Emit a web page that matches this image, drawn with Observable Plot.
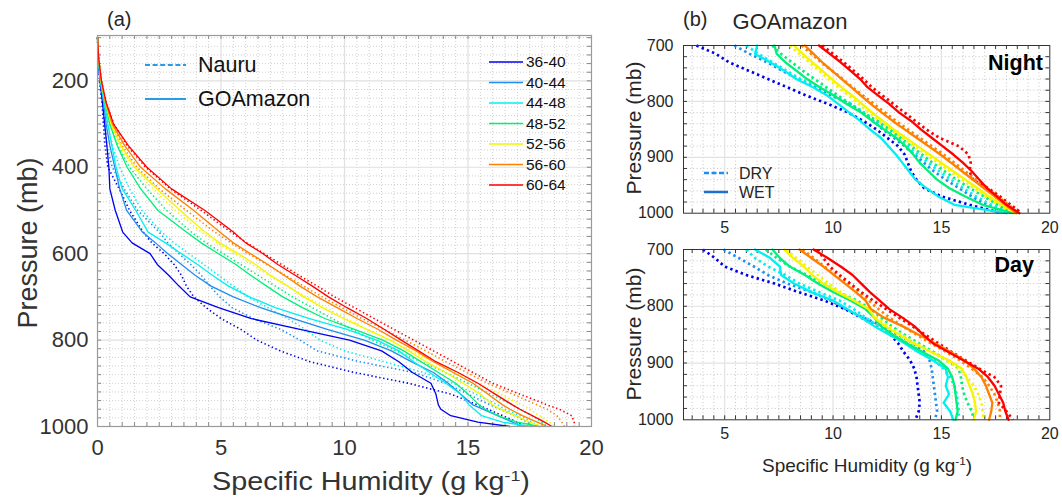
<!DOCTYPE html>
<html><head><meta charset="utf-8">
<script src="https://cdn.jsdelivr.net/npm/d3@7"></script>
<script src="https://cdn.jsdelivr.net/npm/@observablehq/plot@0.6"></script>
<style>
body{margin:0;background:#fff;}
#c{position:relative;width:1062px;height:498px;overflow:hidden;font-family:"Liberation Sans",Arial,Helvetica,sans-serif;color:#262626;background:#fff;}
#c svg{position:absolute;left:0;top:0;}
.t{position:absolute;white-space:nowrap;line-height:1;}
.t sup{font-size:0.62em;vertical-align:0.55em;line-height:0;}
</style></head><body><div id="c"></div>
<script>
// ---------- categories & styles ----------
const binLabels = ["36-40","40-44","44-48","48-52","52-56","56-60","60-64"];
const binColors = ["#0000f0","#1e8ff0","#00f0f0","#00f07a","#f5f500","#ff8000","#ff0000"];

// ---------- panel (a): pressure levels (mb) ----------
const pressureA = [100,150,200,250,300,350,400,450,500,550,575,600,625,650,675,700,725,750,775,800,825,850,875,900,925,950,960,975,990,1000];
// GOAmazon (solid), specific humidity g/kg
const goa36_40 = [0,0.03,0.1,0.2,0.29,0.38,0.46,0.5,0.72,1.02,1.4,2.13,2.42,2.88,3.3,3.75,4.9,6.2,8.2,10.2,11.5,12.2,12.75,13.5,13.7,13.8,13.9,14.3,15.4,16.7];
const goa40_44 = [0,0.03,0.1,0.25,0.35,0.5,0.7,0.9,1.18,1.82,2.35,2.85,3.4,3.95,4.6,5.5,6.6,7.9,9.3,10.8,11.9,12.7,13.6,14.2,14.7,15.2,15.6,16.2,16.8,17.2];
const goa44_48 = [0,0.04,0.12,0.27,0.42,0.58,0.75,1.0,1.55,2.05,2.75,3.4,4.05,4.65,5.3,6.15,7.2,8.55,10.1,11.3,12.2,12.8,13.45,14.1,14.7,15.05,15.25,15.55,16.4,17.6];
const goa48_52 = [0,0.04,0.13,0.3,0.5,0.8,1.2,1.75,2.45,3.6,4.2,4.9,5.6,6.2,6.85,7.5,8.3,9.2,10.4,11.55,12.4,13.1,13.8,14.5,15.0,15.45,15.7,16.2,17.0,17.9];
const goa52_56 = [0,0.05,0.14,0.32,0.55,0.95,1.5,2.4,3.35,4.35,4.95,5.7,6.4,7.0,7.7,8.35,9.1,9.95,10.9,11.85,12.6,13.3,14.1,14.8,15.5,16.0,16.3,16.9,17.5,18.0];
const goa56_60 = [0,0.05,0.15,0.33,0.6,1.1,1.75,2.75,3.9,4.95,5.5,6.2,6.9,7.55,8.2,8.9,9.7,10.5,11.35,12.1,12.9,13.6,14.4,15.2,15.8,16.4,16.7,17.2,17.8,18.2];
const goa60_64 = [0,0.05,0.16,0.35,0.65,1.25,2.0,3.0,4.35,5.5,6.0,6.7,7.3,8.0,8.7,9.35,10.1,10.9,11.6,12.3,13.0,13.7,14.6,15.4,16.1,16.8,17.1,17.6,18.1,18.4];
// Nauru (dotted)
const nau36_40 = [0,0.03,0.08,0.18,0.24,0.3,0.42,0.88,1.3,1.85,2.2,2.7,3.1,3.4,3.6,3.9,4.4,5.0,5.8,6.45,7.4,8.6,10.4,12.6,14.3,15.4,15.8,16.4,17.0,17.3];
const nau40_44 = [0,0.03,0.1,0.2,0.3,0.38,0.6,1.08,1.63,2.5,2.85,3.3,3.78,4.2,4.55,4.95,5.45,6.3,7.4,8.2,8.9,10.6,12.8,14.1,15.0,15.9,16.3,16.9,17.4,17.6];
const nau44_48 = [0,0.04,0.12,0.25,0.4,0.6,0.9,1.3,1.8,2.6,3.1,3.7,4.3,4.9,5.5,6.1,6.9,7.7,8.4,9.0,10.0,11.6,13.2,14.4,15.3,16.2,16.5,17.1,17.6,17.9];
const nau48_52 = [0,0.04,0.13,0.3,0.5,0.82,1.3,2.0,2.8,3.8,4.4,5.1,5.8,6.5,7.2,7.9,8.7,9.5,10.3,11.1,12.1,13.1,14.1,15.0,15.9,16.8,17.1,17.6,18.0,18.2];
const nau52_56 = [0,0.05,0.14,0.32,0.55,0.9,1.45,2.25,3.15,4.2,4.85,5.55,6.25,6.95,7.7,8.45,9.25,10.05,10.9,11.8,12.7,13.6,14.5,15.4,16.3,17.2,17.5,17.9,18.3,18.5];
const nau56_60 = [0,0.05,0.15,0.33,0.6,1.0,1.6,2.5,3.6,4.75,5.4,6.1,6.85,7.6,8.35,9.1,9.9,10.7,11.6,12.45,13.3,14.1,14.95,15.8,16.8,17.8,18.2,18.6,18.8,18.9];
const nau60_64 = [0,0.05,0.16,0.35,0.66,1.2,1.95,2.95,4.2,5.4,6.05,6.75,7.45,8.15,8.9,9.6,10.4,11.2,12.0,12.8,13.6,14.4,15.2,16.0,17.1,18.2,18.7,19.2,19.3,19.3];

// ---------- panel (b): GOAmazon night / day ----------
const pressureB = [700,715,730,745,760,775,790,805,820,835,850,865,880,895,910,925,940,955,970,985,1000];
const nightDry36_40 = [3.7,4.6,5.2,6.1,7.0,7.9,8.8,9.8,10.7,11.4,12.0,12.5,13.0,13.3,13.45,13.6,13.85,14.2,15.0,16.3,17.8];
const nightDry40_44 = [5.45,6.15,6.95,7.65,8.4,9.2,9.95,10.8,11.35,11.85,12.3,12.8,13.3,13.75,14.2,14.65,15.2,15.8,16.4,17.1,18.1];
const nightDry44_48 = [6.0,6.55,7.2,7.85,8.5,9.45,10.15,10.85,11.45,11.95,12.4,12.9,13.4,13.9,14.4,14.9,15.45,16.0,16.6,17.3,18.2];
const nightDry48_52 = [7.2,7.6,8.1,8.6,9.15,9.7,10.25,10.8,11.35,12.05,12.6,13.1,13.6,14.1,14.6,15.15,15.7,16.3,16.95,17.6,18.3];
const nightDry52_56 = [8.0,8.45,8.9,9.35,9.8,10.25,10.75,11.2,11.65,12.15,12.65,13.2,13.75,14.3,14.85,15.4,15.95,16.5,17.05,17.65,18.4];
const nightDry56_60 = [8.55,9.0,9.45,9.95,10.45,10.9,11.4,11.9,12.4,12.9,13.45,14.0,14.55,15.1,15.6,16.1,16.6,17.1,17.6,18.1,18.55];
const nightDry60_64 = [9.5,10.0,10.5,10.95,11.4,11.8,12.3,12.8,13.3,13.8,14.3,14.9,15.8,16.25,16.35,16.3,16.45,17.15,17.7,18.2,18.7];
const nightWet44_48 = [6.5,6.4,7.1,7.75,8.3,9.1,9.75,10.25,10.75,11.25,11.7,12.2,12.55,12.9,13.2,13.5,13.8,14.3,14.85,15.6,18.0];
const nightWet48_52 = [7.3,7.4,7.8,8.3,8.8,9.4,10.05,10.65,11.3,11.8,12.35,12.9,13.35,13.7,14.0,14.4,14.8,15.35,16.1,16.9,18.3];
const nightWet52_56 = [8.2,8.6,9.05,9.5,9.95,10.4,10.9,11.35,11.8,12.3,12.8,13.35,13.9,14.45,15.0,15.55,16.1,16.65,17.2,17.8,18.4];
const nightWet56_60 = [8.7,9.1,9.5,9.95,10.4,10.85,11.3,11.75,12.25,12.75,13.3,13.85,14.4,14.95,15.45,15.95,16.45,16.95,17.45,17.95,18.45];
const nightWet60_64 = [9.35,9.85,10.35,10.8,11.25,11.6,12.1,12.6,13.05,13.6,14.05,14.55,15.05,15.55,16.0,16.4,16.75,17.1,17.55,18.0,18.6];
const dayDry36_40 = [4.0,4.55,5.0,6.0,7.3,8.4,9.6,10.55,11.3,12.0,12.65,13.0,13.25,13.55,13.75,13.85,13.9,13.95,14.0,13.95,13.8];
const dayDry40_44 = [4.95,5.65,6.35,7.0,7.9,9.0,9.9,10.6,11.4,12.3,13.0,13.7,14.2,14.45,14.55,14.6,14.65,14.7,14.75,14.8,14.7];
const dayDry44_48 = [6.0,6.4,7.0,7.8,8.45,9.35,10.3,10.95,11.5,12.1,12.75,13.45,14.1,14.65,15.1,15.4,15.6,15.7,15.75,15.8,15.8];
const dayDry48_52 = [6.9,7.4,8.0,8.8,9.55,10.25,11.1,11.75,12.2,12.7,13.3,13.95,14.6,15.25,15.8,15.9,15.95,16.05,16.2,16.4,16.5];
const dayDry52_56 = [7.85,8.3,8.8,9.3,9.8,10.35,10.95,11.5,12.0,12.55,13.15,13.8,14.5,15.2,15.8,16.2,16.5,16.7,16.85,16.9,16.95];
const dayDry56_60 = [8.6,9.1,9.6,10.15,10.7,11.2,11.65,12.1,12.6,13.2,13.85,14.5,15.2,15.85,16.4,16.9,17.2,17.45,17.6,17.7,17.7];
const dayDry60_64 = [9.3,9.55,9.85,10.3,10.8,11.3,11.85,12.45,13.05,13.65,14.25,14.85,15.45,16.1,16.75,17.45,17.75,17.7,17.65,18.0,18.3];
const dayWet44_48 = [6.4,7.1,7.55,7.6,8.2,9.0,10.0,10.65,11.3,11.9,12.6,13.3,13.9,14.6,15.2,15.3,15.2,15.35,15.1,15.4,15.55];
const dayWet48_52 = [7.2,7.55,8.0,8.7,9.3,10.0,10.8,11.5,11.9,12.2,12.75,13.4,14.1,14.85,15.3,15.5,15.6,15.65,15.7,15.75,15.65];
const dayWet52_56 = [7.75,8.15,8.65,9.05,9.55,10.2,10.95,11.65,11.9,12.4,13.05,13.7,14.5,15.35,15.95,16.15,16.3,16.45,16.55,16.6,16.5];
const dayWet56_60 = [8.45,9.0,9.55,10.05,10.55,11.05,11.5,11.75,12.35,13.2,13.95,14.7,15.4,16.05,16.5,16.85,17.05,17.2,17.35,17.3,17.2];
const dayWet60_64 = [9.1,9.75,10.35,10.9,11.3,11.7,12.15,12.6,13.2,13.75,14.15,14.6,15.3,16.0,16.7,17.15,17.45,17.65,17.85,17.95,18.1];

// ---------- tick labels ----------
const xTicksA = [0,5,10,15,20];
const yTicksA = [200,400,600,800,1000];
const xTicksB = [5,10,15,20];
const yTicksB = [700,800,900,1000];

// ---------- build tables ----------
function rows(press, series, bins){
  const out=[];
  series.forEach((arr,i)=>arr.forEach((q,j)=>out.push({p:press[j], q, bin:bins[i]})));
  return out;
}
const rowsGoa = rows(pressureA,[goa36_40,goa40_44,goa44_48,goa48_52,goa52_56,goa56_60,goa60_64],binLabels);
const rowsNau = rows(pressureA,[nau36_40,nau40_44,nau44_48,nau48_52,nau52_56,nau56_60,nau60_64],binLabels);
const rowsNightDry = rows(pressureB,[nightDry36_40,nightDry40_44,nightDry44_48,nightDry48_52,nightDry52_56,nightDry56_60,nightDry60_64],binLabels);
const rowsNightWet = rows(pressureB,[nightWet44_48,nightWet48_52,nightWet52_56,nightWet56_60,nightWet60_64],binLabels.slice(2));
const rowsDayDry = rows(pressureB,[dayDry36_40,dayDry40_44,dayDry44_48,dayDry48_52,dayDry52_56,dayDry56_60,dayDry60_64],binLabels);
const rowsDayWet = rows(pressureB,[dayWet44_48,dayWet48_52,dayWet52_56,dayWet56_60,dayWet60_64],binLabels.slice(2));

const W=1062, H=498;
const FONT='"Liberation Sans", Arial, Helvetica, sans-serif';
const C=document.getElementById("c");
const color={domain:binLabels, range:binColors};

// grid helpers (positions of grid lines)
const minorXA = d3.range(0.5,20,0.5).filter(v=>v%5!==0);
const minorYA = d3.range(100,1000,20).filter(v=>v%200!==0);
const tickXA = d3.range(0.5,20,0.5);
const tickYA = d3.range(100,1000,20);

const plotA = Plot.plot({
  width:W, height:H, marginLeft:97, marginRight:W-591, marginTop:35, marginBottom:H-426,
  style:{background:"transparent", fontFamily:FONT, fontSize:"22px", color:"#333", overflow:"visible"},
  x:{domain:[0,20], ticks:xTicksA, tickSize:0, tickPadding:13, tickFormat:"d", label:null},
  y:{domain:[95,1000], reverse:true, ticks:yTicksA, tickSize:0, tickPadding:9, tickFormat:"d", label:null},
  color,
  marks:[
    Plot.ruleX(minorXA,{stroke:"#c4c4c4", strokeDasharray:"1,2", strokeWidth:0.8}),
    Plot.ruleY(minorYA,{stroke:"#c4c4c4", strokeDasharray:"1,2", strokeWidth:0.8}),
    Plot.ruleX([5,10,15],{stroke:"#e0e0e0", strokeWidth:1.2}),
    Plot.ruleY([200,400,600,800],{stroke:"#e0e0e0", strokeWidth:1.2}),
    Plot.ruleX(tickXA,{y1:1000, y2:991, stroke:"#888"}),
    Plot.ruleX(tickXA,{y1:95, y2:104, stroke:"#888"}),
    Plot.ruleY(tickYA,{x1:0, x2:0.17, stroke:"#888"}),
    Plot.ruleY(tickYA,{x1:20, x2:19.83, stroke:"#888"}),
    Plot.line(rowsNau,{x:"q", y:"p", z:"bin", stroke:"bin", strokeWidth:1.6, strokeDasharray:"1.4,2.6", strokeLinecap:"butt"}),
    Plot.line(rowsGoa,{x:"q", y:"p", z:"bin", stroke:"bin", strokeWidth:1.3}),
    Plot.frame({stroke:"#9a9a9a", strokeWidth:1.2})
  ]
});
C.append(plotA);

const minorXB = d3.range(3.5,20,0.5).filter(v=>v%5!==0);
const minorYB = d3.range(720,1000,20).filter(v=>v%100!==0);
const tickXB = d3.range(3.5,20,0.5);
const tickYB = d3.range(720,1000,20);

function panelB(dryRows, wetRows, top, bottom){
  return Plot.plot({
    width:W, height:H, marginLeft:683, marginRight:W-1049.3, marginTop:top, marginBottom:H-bottom,
    style:{background:"transparent", fontFamily:FONT, fontSize:"16px", color:"#262626", overflow:"visible"},
    x:{domain:[3.1,20], ticks:xTicksB, tickSize:0, tickPadding:8, tickFormat:"d", label:null},
    y:{domain:[700,1000], reverse:true, ticks:yTicksB, tickSize:0, tickPadding:10, tickFormat:"d", label:null},
    color,
    marks:[
      Plot.ruleX(minorXB,{stroke:"#b8b8b8", strokeDasharray:"1,2.4", strokeWidth:0.8}),
      Plot.ruleY(minorYB,{stroke:"#b8b8b8", strokeDasharray:"1,2.4", strokeWidth:0.8}),
      Plot.ruleX([5,10,15],{stroke:"#e2e2e2", strokeWidth:1.2}),
      Plot.ruleY([800,900],{stroke:"#e2e2e2", strokeWidth:1.2}),
      Plot.ruleX(tickXB,{y1:1000, y2:993, stroke:"#333"}),
      Plot.ruleX(tickXB,{y1:700, y2:707, stroke:"#333"}),
      Plot.ruleY(tickYB,{x1:3.1, x2:3.28, stroke:"#333"}),
      Plot.ruleY(tickYB,{x1:20, x2:19.82, stroke:"#333"}),
      Plot.line(dryRows,{x:"q", y:"p", z:"bin", stroke:"bin", strokeWidth:2.7, strokeDasharray:"2.4,3.2", strokeLinecap:"butt"}),
      Plot.line(wetRows,{x:"q", y:"p", z:"bin", stroke:"bin", strokeWidth:2.3}),
      Plot.frame({stroke:"#333", strokeWidth:1})
    ]
  });
}
C.append(panelB(rowsNightDry, rowsNightWet, 45, 212.7));
C.append(panelB(rowsDayDry, rowsDayWet, 249, 419.3));

// ---------- legend samples ----------
const leg = d3.create("svg").attr("width",W).attr("height",H).style("position","absolute").style("left","0").style("top","0");
leg.append("line").attr("x1",145).attr("x2",186).attr("y1",65).attr("y2",65).attr("stroke","#2a9be8").attr("stroke-width",2).attr("stroke-dasharray","5,2.6");
leg.append("line").attr("x1",145).attr("x2",186).attr("y1",99).attr("y2",99).attr("stroke","#2a9be8").attr("stroke-width",2);
binLabels.forEach((b,i)=>{
  leg.append("line").attr("x1",489).attr("x2",523).attr("y1",62+i*20.5).attr("y2",62+i*20.5).attr("stroke",binColors[i]).attr("stroke-width",1.5);
});
leg.append("line").attr("x1",704).attr("x2",728).attr("y1",173).attr("y2",173).attr("stroke","#1e8ff0").attr("stroke-width",2.5).attr("stroke-dasharray","5,2.5");
leg.append("line").attr("x1",704).attr("x2",728).attr("y1",192).attr("y2",192).attr("stroke","#1e6fd0").attr("stroke-width",2.5);
C.append(leg.node());

// ---------- texts ----------
function txt(html,x,y,o={}){
  const d=document.createElement("div"); d.className="t"; d.innerHTML=html;
  d.style.fontSize=(o.size||16)+"px"; d.style.fontWeight=o.weight||"normal";
  d.style.color=o.color||"#262626"; d.style.left=x+"px"; d.style.top=y+"px";
  const tx=o.anchor==="middle"?"-50%":o.anchor==="end"?"-100%":"0%";
  d.style.transform=`translate(${tx},-50%)`+(o.rotate?` rotate(${o.rotate}deg)`:"")+(o.sx?` scaleX(${o.sx})`:"");
  C.append(d); return d;
}
txt("(a)",107,19,{size:20});
txt("Nauru",198,66,{size:21.5,color:"#111"});
txt("GOAmazon",198,100,{size:21.5,color:"#111"});
binLabels.forEach((b,i)=>txt(b,526,62+i*20.5,{size:15.5,color:"#111"}));
txt("Pressure (mb)",28,243,{size:27,anchor:"middle",rotate:-90,color:"#333"});
txt("Specific Humidity (g kg<sup>-1</sup>)",371,481,{size:25,anchor:"middle",color:"#333",sx:1.15});
txt("(b)",683,19,{size:20});
txt("GOAmazon",790,22,{size:22,anchor:"middle"});
txt("Night",1043,64,{size:21.5,weight:"bold",anchor:"end",color:"#000"});
txt("Day",1034,266,{size:21.5,weight:"bold",anchor:"end",color:"#000"});
txt("DRY",739,174,{size:16});
txt("WET",739,193,{size:16});
txt("Pressure (mb)",633,128,{size:21,anchor:"middle",rotate:-90});
txt("Pressure (mb)",633,334,{size:21,anchor:"middle",rotate:-90});
txt("Specific Humidity (g kg<sup>-1</sup>)",867,465,{size:19,anchor:"middle"});
</script></body></html>
